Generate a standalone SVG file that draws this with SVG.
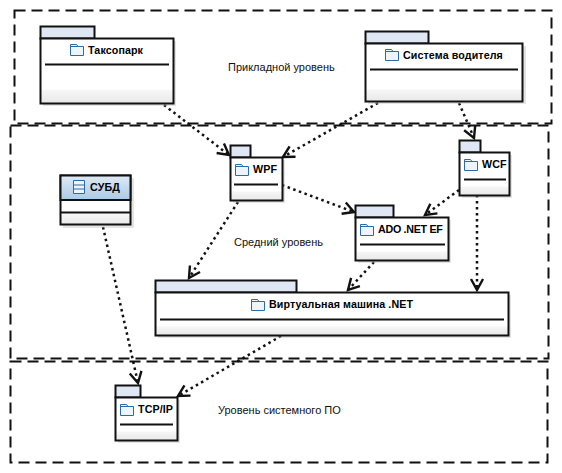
<svg xmlns="http://www.w3.org/2000/svg" width="562" height="473" viewBox="0 0 562 473">
<style>
.zone{fill:none;stroke:#111;stroke-width:2;stroke-dasharray:11 6}
.tab{fill:#dfe7f4;stroke:#111;stroke-width:2}
.body{fill:url(#fade);stroke:#111;stroke-width:2}
.shadow{fill:#bbb;opacity:.4}
.div{stroke:#111;stroke-width:2}
.name{font:bold 10.700px "Liberation Sans",sans-serif;fill:#000;letter-spacing:.1px}
.lab{font:11px "Liberation Sans",sans-serif;fill:#111}
.ico{fill:#eef4fb;stroke:#2a6ca8;stroke-width:1}
.dep{fill:none;stroke:#111;stroke-width:2.5;stroke-dasharray:2.5 3.5;marker-end:url(#open)}
</style>
<defs>
<linearGradient id="fade" x1="0" y1="1" x2="0" y2="0">
<stop offset="0" stop-color="#e8e8e8"/><stop offset=".2" stop-color="#f6f6f6"/><stop offset=".22" stop-color="#fff"/><stop offset="1" stop-color="#fff"/>
</linearGradient>
<linearGradient id="head" x1="0" y1="0" x2="0" y2="1"><stop offset="0" stop-color="#dfe9f5"/><stop offset="1" stop-color="#a9cbe6"/></linearGradient>
<marker id="open" markerUnits="userSpaceOnUse" markerWidth="16" markerHeight="16" refX="12" refY="7" orient="auto" viewBox="0 0 16 14"><path d="M1 1 L12 7 L1 13" fill="none" stroke="#111" stroke-width="2.4"/></marker>
<g id="f"><path class="ico" d="M0.500 0.500h6l1.500 2h5.500v9h-13z"/><path d="M0.500 2.500h7.500" stroke="#2a6ca8" fill="none"/></g>
</defs>
<rect width="562" height="473" fill="#fff"/>
<g id="zones">
<rect class="zone" x="14.500" y="10.500" width="537" height="113"/>
<rect class="zone" x="10.500" y="125.500" width="538" height="233"/>
<rect class="zone" x="10.500" y="361.500" width="537" height="101"/>
</g>
<text class="lab" x="228" y="71">Прикладной уровень</text>
<text class="lab" x="234" y="246">Средний уровень</text>
<text class="lab" x="218" y="414">Уровень системного ПО</text>
<g id="connectors">
<path class="dep" d="M164 105 L229 155"/>
<path class="dep" d="M378 103 L283 157"/>
<path class="dep" d="M459 103 L474 138"/>
<path class="dep" d="M282 185 L354 212"/>
<path class="dep" d="M459 190 L425 215"/>
<path class="dep" d="M238 202 L189 278"/>
<path class="dep" d="M374 262 L348 290"/>
<path class="dep" d="M477 195 L477 290"/>
<path class="dep" d="M103 227 L138 383"/>
<path class="dep" d="M281 336 L178 396"/>
</g>
<g id="taksopark">
<rect class="shadow" x="43" y="41" width="133" height="65"/>
<rect class="tab" x="40.500" y="26.500" width="54" height="12"/><rect class="body" x="40.500" y="38.500" width="133" height="65"/>
<use href="#f" x="70" y="44"/><text class="name" x="88" y="54">Таксопарк</text>
<line class="div" x1="45" y1="64.500" x2="169" y2="64.500"/>
</g>
<g id="sistema">
<rect class="shadow" x="368" y="46" width="158" height="58"/>
<rect class="tab" x="365.500" y="31.500" width="63" height="12"/><rect class="body" x="365.500" y="43.500" width="157" height="58"/>
<use href="#f" x="385" y="49"/><text class="name" x="403" y="59">Система водителя</text>
<line class="div" x1="370" y1="69.500" x2="518" y2="69.500"/>
</g>
<g id="wpf">
<rect class="shadow" x="233" y="160" width="52" height="43"/>
<rect class="tab" x="230.500" y="145.500" width="20" height="12"/><rect class="body" x="230.500" y="157.500" width="52" height="43"/>
<use href="#f" x="235" y="164"/><text class="name" x="253" y="173">WPF</text>
<line class="div" x1="234" y1="184.500" x2="278" y2="184.500"/>
</g>
<g id="wcf">
<rect class="shadow" x="462" y="155" width="50" height="43"/>
<rect class="tab" x="459.500" y="140.500" width="21" height="12"/><rect class="body" x="459.500" y="152.500" width="50" height="43"/>
<use href="#f" x="464" y="159"/><text class="name" x="482" y="168">WCF</text>
<line class="div" x1="464" y1="179.500" x2="506" y2="179.500"/>
</g>
<g id="ado">
<rect class="shadow" x="358" y="220" width="93" height="43"/>
<rect class="tab" x="355.500" y="205.500" width="38" height="12"/><rect class="body" x="355.500" y="217.500" width="93" height="43"/>
<use href="#f" x="360" y="224"/><text class="name" x="378" y="233" textLength="65" lengthAdjust="spacing">ADO .NET EF</text>
<line class="div" x1="360" y1="244.500" x2="445" y2="244.500"/>
</g>
<g id="vm">
<rect class="shadow" x="158" y="295" width="353" height="43"/>
<rect class="tab" x="155.500" y="280.500" width="141" height="12"/><rect class="body" x="155.500" y="292.500" width="353" height="43"/>
<use href="#f" x="251" y="299"/><text class="name" x="269" y="308">Виртуальная машина .NET</text>
<line class="div" x1="160" y1="319.500" x2="504" y2="319.500"/>
</g>
<g id="tcp">
<rect class="shadow" x="118" y="400" width="62" height="43"/>
<rect class="tab" x="115.500" y="385.500" width="25" height="12"/><rect class="body" x="115.500" y="397.500" width="62" height="43"/>
<use href="#f" x="120" y="404"/><text class="name" x="138" y="413">TCP/IP</text>
<line class="div" x1="120" y1="424.500" x2="173" y2="424.500"/>
</g>
<g id="subd">
<rect class="shadow" x="63" y="178" width="71" height="50"/>
<rect x="60.500" y="175.500" width="70" height="49" fill="url(#fade)" stroke="#111" stroke-width="2"/>
<rect x="60.500" y="175.500" width="70" height="24.500" fill="url(#head)" stroke="#111" stroke-width="2"/>
<line class="div" x1="61" y1="212.500" x2="130" y2="212.500"/>
<path d="M73.500 180.500h11v13h-11zM73.500 185h11M73.500 189h11" fill="#eef4fb" stroke="#2a6ca8"/>
<text class="name" x="90" y="191">СУБД</text>
</g>
</svg>
